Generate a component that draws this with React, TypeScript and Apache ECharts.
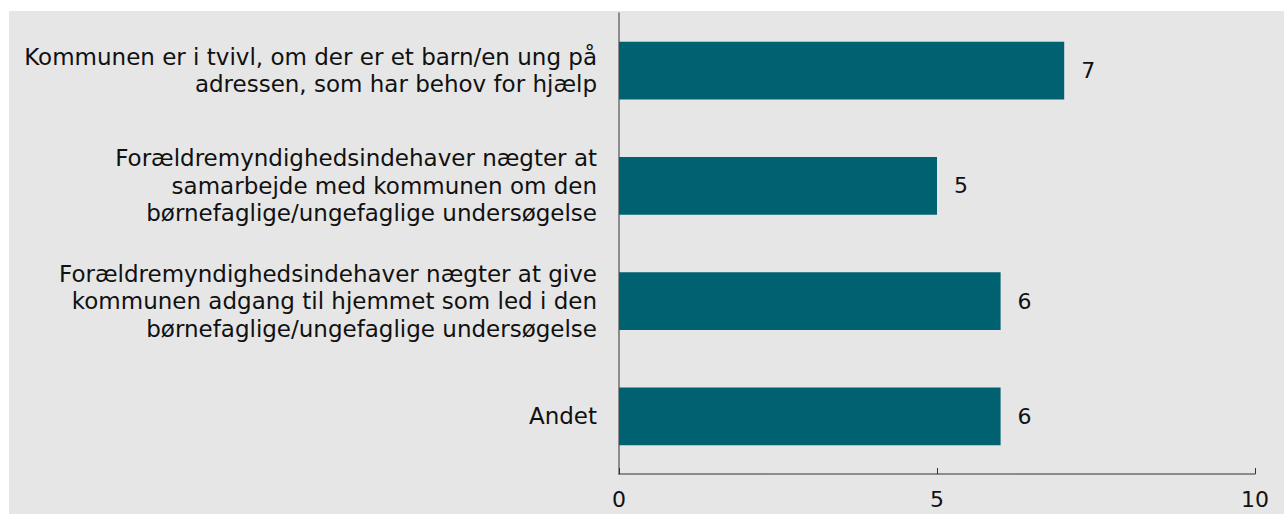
import React, { useEffect, useRef } from "react";
import * as echarts from "echarts";

const categories = [
  "Kommunen er i tvivl, om der er et barn/en ung på\nadressen, som har behov for hjælp",
  "Forældremyndighedsindehaver nægter at\nsamarbejde med kommunen om den\nbørnefaglige/ungefaglige undersøgelse",
  "Forældremyndighedsindehaver nægter at give\nkommunen adgang til hjemmet som led i den\nbørnefaglige/ungefaglige undersøgelse",
  "Andet",
];
const values = [7, 5, 6, 6];

const FONT = "DejaVu Sans";
const FS = 23;

export default function App() {
  const ref = useRef<HTMLDivElement>(null);
  useEffect(() => {
    if (!ref.current) return;
    const chart = echarts.init(ref.current, undefined, { renderer: "svg" });
    chart.setOption({
      animation: false,
      backgroundColor: "#e6e6e6",
      textStyle: { fontFamily: FONT },
      grid: { left: 610, right: 29, top: 2, bottom: 40, containLabel: false },
      xAxis: {
        type: "value",
        min: 0,
        max: 10,
        interval: 5,
        axisLine: { show: true, lineStyle: { color: "#6e6e6e", width: 1.5 } },
        axisTick: { show: true, inside: true, length: 6, lineStyle: { color: "#333", width: 1 } },
        axisLabel: { color: "#111", fontSize: 22, fontFamily: FONT, margin: 14 },
        splitLine: { show: false },
      },
      yAxis: {
        type: "category",
        data: categories,
        inverse: true,
        axisLine: { show: true, lineStyle: { color: "#6e6e6e", width: 1.5 } },
        axisTick: { show: false },
        axisLabel: {
          color: "#111",
          fontSize: FS,
          fontFamily: FONT,
          margin: 22,
          lineHeight: 27.5,
          align: "right",
        },
      },
      series: [
        {
          type: "bar",
          data: values,
          barWidth: "50%",
          itemStyle: { color: "#006170" },
          label: {
            show: true,
            position: "right",
            distance: 17,
            color: "#111",
            fontSize: 22,
            fontFamily: FONT,
          },
        },
      ],
    });
    return () => chart.dispose();
  }, []);
  return (
    <div
      ref={ref}
      style={{ position: "absolute", left: 9, top: 11, width: 1275, height: 503 }}
    />
  );
}
